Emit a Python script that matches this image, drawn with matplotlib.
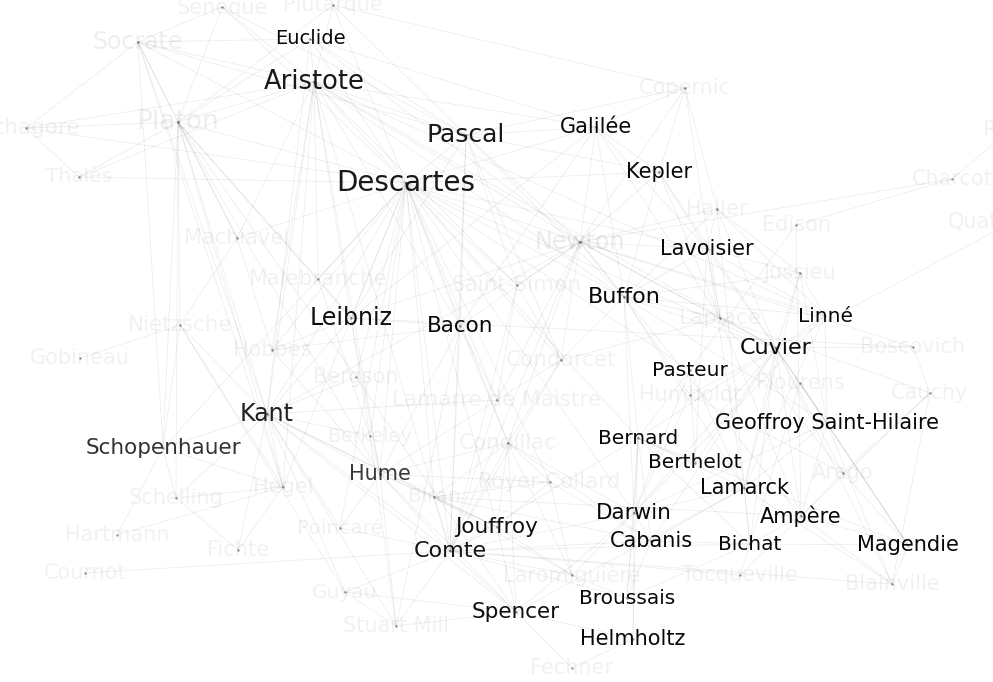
import matplotlib.pyplot as plt

# noms, position (pixels de l'image), taille de police, intensité du texte
names = ["Euclide", "Aristote", "Pascal", "Descartes", "Galilée", "Kepler", "Lavoisier",
         "Buffon", "Linné", "Leibniz", "Bacon", "Cuvier", "Pasteur", "Kant",
         "Geoffroy Saint-Hilaire", "Schopenhauer", "Bernard", "Berthelot", "Hume",
         "Lamarck", "Darwin", "Ampère", "Jouffroy", "Cabanis", "Bichat", "Magendie",
         "Comte", "Broussais", "Spencer", "Helmholtz",
         "Sénèque", "Plutarque", "Socrate", "Pythagore", "Platon", "Thalès", "Copernic",
         "Ribot", "Charcot", "Quatrefages", "Haller", "Edison", "Machiavel", "Newton",
         "Jussieu", "Malebranche", "Saint-Simon", "Laplace", "Nietzsche", "Gobineau",
         "Hobbes", "Condorcet", "Boscovich", "Bergson", "Humboldt", "Flourens", "Cauchy",
         "Lamarre de Maistre", "Berkeley", "Condillac", "Hegel", "Biran", "Royer-Collard",
         "Arago", "Schelling", "Hartmann", "Poincaré", "Fichte", "Cournot",
         "Laromiguière", "Tocqueville", "Blainville", "Guyau", "Stuart Mill", "Fechner"]

xs = [310, 314, 466, 406, 596, 659, 707,
      624, 825, 351, 460, 776, 690, 267,
      827, 163, 638, 695, 380,
      744, 634, 801, 497, 651, 750, 908,
      450, 627, 516, 633,
      222, 333, 138, 26, 178, 79, 685,
      1010, 952, 1012, 717, 796, 237, 580,
      800, 318, 517, 720, 180, 80,
      272, 561, 913, 356, 690, 800, 930,
      497, 370, 508, 283, 434, 550,
      843, 176, 117, 340, 238, 85,
      572, 740, 892, 345, 396, 572]

ys = [39, 82, 135, 183, 127, 172, 249,
      297, 316, 318, 326, 348, 370, 414,
      423, 448, 438, 463, 474,
      488, 513, 516, 527, 541, 544, 545,
      551, 598, 612, 639,
      7, 5, 42, 128, 122, 177, 88,
      130, 179, 222, 209, 225, 238, 242,
      273, 279, 285, 318, 325, 358,
      350, 360, 347, 377, 395, 383, 393,
      400, 436, 443, 487, 497, 482,
      473, 498, 535, 528, 550, 573,
      575, 575, 584, 592, 626, 668]

sizes = [14, 18.5, 18, 20, 15, 15, 15,
         16, 14.5, 17, 15.5, 16, 14.5, 17,
         15, 15.5, 14.5, 14.5, 15,
         15, 15.5, 15, 15.5, 15, 14.5, 15,
         16, 14.5, 15.5, 15,
         15, 15, 17, 15.5, 19, 14.5, 15,
         15, 15, 15, 15, 15, 15, 17,
         15, 15.5, 15.5, 15.5, 15.5, 15,
         15, 15.5, 15, 15, 15, 15, 15,
         15.5, 14, 15.5, 15, 14.5, 15.5,
         15, 15, 15, 14.5, 15, 15,
         15, 15, 15, 14.5, 15, 15]

ink = [0.97, 0.9, 0.9, 0.9, 0.97, 0.97, 0.97,
       0.97, 0.97, 0.94, 0.97, 0.97, 0.97, 0.87,
       0.97, 0.8, 0.97, 0.97, 0.77,
       0.97, 0.97, 0.97, 0.94, 0.97, 0.97, 0.97,
       0.92, 0.97, 0.94, 0.97] + [0.055] * 45
ink[names.index("Newton")] = 0.08
ink[names.index("Platon")] = 0.065
ink[names.index("Socrate")] = 0.065

links = {
    "Socrate": ["Platon", "Pythagore", "Aristote", "Euclide", "Descartes", "Pascal", "Kant",
                "Schopenhauer", "Machiavel", "Sénèque", "Hegel"],
    "Platon": ["Pythagore", "Aristote", "Descartes", "Leibniz", "Kant", "Hegel", "Schopenhauer",
               "Nietzsche", "Malebranche", "Bergson", "Thalès", "Plutarque", "Schelling",
               "Hume", "Machiavel", "Sénèque", "Euclide"],
    "Pythagore": ["Thalès", "Aristote", "Descartes"],
    "Thalès": ["Aristote", "Descartes"],
    "Euclide": ["Aristote", "Descartes", "Pascal", "Kant", "Newton", "Galilée"],
    "Aristote": ["Descartes", "Pascal", "Leibniz", "Bacon", "Kant", "Hume", "Galilée",
                 "Machiavel", "Malebranche", "Hobbes", "Comte", "Newton", "Cuvier", "Buffon",
                 "Saint-Simon", "Sénèque", "Plutarque", "Linné", "Hegel"],
    "Plutarque": ["Pascal", "Descartes", "Copernic"],
    "Sénèque": ["Descartes", "Pascal"],
    "Descartes": ["Pascal", "Leibniz", "Bacon", "Kant", "Malebranche", "Newton", "Galilée",
                  "Kepler", "Buffon", "Hume", "Comte", "Condillac", "Hobbes", "Machiavel",
                  "Saint-Simon", "Bernard", "Pasteur", "Cuvier", "Lavoisier", "Berkeley",
                  "Lamarre de Maistre", "Hegel", "Biran", "Schopenhauer", "Jouffroy",
                  "Royer-Collard", "Bergson", "Darwin", "Poincaré", "Condorcet"],
    "Pascal": ["Galilée", "Leibniz", "Newton", "Bacon", "Kepler", "Copernic", "Buffon",
               "Comte", "Condorcet", "Saint-Simon"],
    "Galilée": ["Copernic", "Kepler", "Newton", "Bacon", "Buffon", "Laplace", "Lavoisier",
                "Leibniz"],
    "Copernic": ["Kepler", "Newton", "Laplace", "Haller"],
    "Kepler": ["Newton", "Laplace", "Lavoisier", "Cuvier", "Buffon"],
    "Newton": ["Leibniz", "Laplace", "Lavoisier", "Buffon", "Condorcet", "Cuvier", "Haller",
               "Linné", "Bacon", "Kant", "Saint-Simon", "Ampère", "Comte", "Lamarre de Maistre",
               "Charcot", "Boscovich", "Condillac"],
    "Lavoisier": ["Laplace", "Buffon", "Cuvier", "Berthelot", "Lamarck", "Haller", "Jussieu",
                  "Linné"],
    "Haller": ["Buffon", "Linné", "Jussieu", "Cuvier", "Bichat"],
    "Edison": ["Pasteur", "Ampère", "Charcot"],
    "Jussieu": ["Linné", "Cuvier", "Buffon", "Lamarck", "Geoffroy Saint-Hilaire"],
    "Linné": ["Cuvier", "Buffon", "Lamarck", "Darwin", "Geoffroy Saint-Hilaire"],
    "Buffon": ["Cuvier", "Lamarck", "Darwin", "Geoffroy Saint-Hilaire", "Bernard", "Condorcet",
               "Humboldt", "Laplace"],
    "Laplace": ["Cuvier", "Ampère", "Condorcet", "Cauchy", "Arago"],
    "Cuvier": ["Geoffroy Saint-Hilaire", "Lamarck", "Blainville", "Flourens", "Darwin",
               "Bichat", "Magendie", "Ampère", "Humboldt", "Bernard", "Boscovich", "Cabanis",
               "Berthelot", "Arago", "Quatrefages"],
    "Charcot": ["Ribot"],
    "Ribot": ["Quatrefages"],
    "Boscovich": ["Cauchy", "Leibniz"],
    "Cauchy": ["Ampère", "Arago", "Blainville"],
    "Geoffroy Saint-Hilaire": ["Lamarck", "Darwin", "Blainville", "Ampère", "Magendie",
                               "Flourens"],
    "Pasteur": ["Bernard", "Berthelot", "Darwin", "Lamarck"],
    "Humboldt": ["Darwin", "Arago"],
    "Flourens": ["Magendie", "Bichat"],
    "Bernard": ["Magendie", "Berthelot", "Bichat", "Darwin", "Cabanis", "Helmholtz", "Comte",
                "Lamarck", "Broussais"],
    "Lamarck": ["Darwin", "Bichat", "Cabanis", "Spencer", "Blainville"],
    "Darwin": ["Spencer", "Cabanis", "Helmholtz", "Broussais", "Comte", "Condillac",
               "Laromiguière"],
    "Ampère": ["Arago", "Magendie", "Bichat", "Tocqueville", "Blainville", "Biran"],
    "Bichat": ["Magendie", "Cabanis", "Broussais", "Comte", "Tocqueville"],
    "Magendie": ["Blainville", "Arago"],
    "Cabanis": ["Broussais", "Condillac", "Comte", "Biran", "Royer-Collard"],
    "Broussais": ["Comte", "Laromiguière"],
    "Helmholtz": ["Spencer", "Fechner"],
    "Fechner": ["Spencer"],
    "Tocqueville": ["Comte"],
    "Laromiguière": ["Condillac", "Royer-Collard", "Jouffroy", "Biran", "Comte"],
    "Spencer": ["Comte", "Stuart Mill", "Jouffroy", "Condillac", "Kant", "Hume", "Guyau"],
    "Comte": ["Saint-Simon", "Condorcet", "Stuart Mill", "Kant", "Hume", "Bacon", "Jouffroy",
              "Condillac", "Lamarre de Maistre", "Biran", "Poincaré", "Guyau", "Cournot",
              "Blainville"],
    "Stuart Mill": ["Hume", "Bacon", "Kant", "Guyau", "Berkeley"],
    "Jouffroy": ["Royer-Collard", "Biran", "Condillac", "Hume", "Kant"],
    "Biran": ["Condillac", "Royer-Collard", "Kant", "Hume"],
    "Royer-Collard": ["Condillac", "Hume"],
    "Condillac": ["Hume", "Bacon", "Condorcet"],
    "Condorcet": ["Saint-Simon", "Lamarre de Maistre"],
    "Saint-Simon": ["Lamarre de Maistre"],
    "Lamarre de Maistre": ["Bacon", "Kant", "Hume"],
    "Hume": ["Kant", "Berkeley", "Bacon", "Hobbes", "Leibniz"],
    "Berkeley": ["Kant", "Leibniz", "Malebranche"],
    "Bacon": ["Leibniz", "Hobbes"],
    "Leibniz": ["Malebranche", "Kant", "Hobbes"],
    "Hobbes": ["Machiavel"],
    "Machiavel": ["Nietzsche"],
    "Nietzsche": ["Schopenhauer", "Gobineau", "Kant", "Hegel", "Guyau"],
    "Kant": ["Schopenhauer", "Hegel", "Fichte", "Schelling", "Bergson", "Poincaré", "Guyau"],
    "Bergson": ["Spencer"],
    "Hegel": ["Fichte", "Schelling", "Schopenhauer", "Hartmann"],
    "Schelling": ["Fichte", "Schopenhauer"],
    "Schopenhauer": ["Hartmann"],
    "Poincaré": ["Hume"],
}

pos = {n: (x, y) for n, x, y in zip(names, xs, ys)}
edges = set()
for a, voisins in links.items():
    for b in voisins:
        edges.add(tuple(sorted((a, b))))

fig = plt.figure(figsize=(9.93, 6.82), dpi=100)
ax = fig.add_axes([0, 0, 1, 1])

for a, b in sorted(edges):
    ax.plot([pos[a][0], pos[b][0]], [pos[a][1], pos[b][1]],
            color='black', alpha=0.07, lw=0.6, zorder=1)

ax.scatter(xs, ys, s=3, color='#555555', alpha=0.6, lw=0, zorder=2)

for n, x, y, s, a in zip(names, xs, ys, sizes, ink):
    ax.text(x, y, n, fontsize=s, color='black', alpha=a,
            ha='center', va='center', zorder=3)

ax.set_xlim(0, 993)
ax.set_ylim(682, 0)
ax.axis('off')

plt.savefig('out.png', dpi=100)
